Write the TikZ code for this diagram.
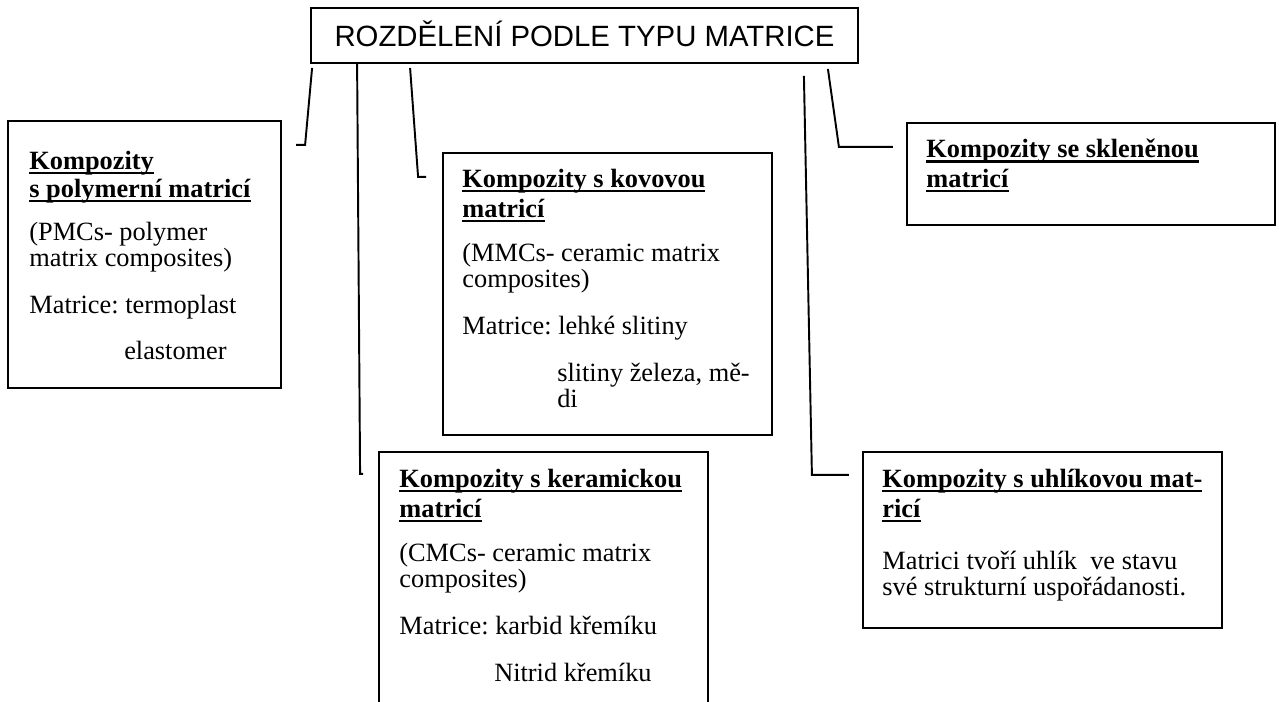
\documentclass[tikz,border=0pt]{standalone}
\usepackage{fontspec}
\setmainfont{Liberation Serif}
\newfontfamily\titlefont{Liberation Sans}
\usetikzlibrary{calc, fit}
\frenchspacing

% underlined bold heading line
\newcommand{\hdline}[1]{\setbox0\hbox{#1}\rlap{\rule[-2.6pt]{\wd0}{1.2pt}}\box0}
\newcommand{\hd}[1]{\hdline{\textbf{#1}}}

\begin{document}
\begin{tikzpicture}[
  x=0.02cm, y=-0.02cm,
  box/.style={draw, line width=1.1pt, inner sep=0pt},
  titlebox/.style={draw, line width=1.1pt, inner sep=0pt, minimum width=10.94cm, minimum height=1.1cm,
    text height=12pt, text depth=0pt, font=\titlefont\fontsize{16.7}{20}\selectfont},
  txt/.style={anchor=north west, inner sep=0pt, align=left, font=\fontsize{15}{14.8}\selectfont},
  link/.style={line width=1.1pt}
]
  \useasboundingbox (0,0) rectangle (1280,702);
  \clip (0,0) rectangle (1280,702);

  \node[titlebox] (title) at (584.5,35.5) {ROZDĚLENÍ PODLE TYPU MATRICE};

  % Boxy
  \node[box, fit={(8,121) (281,388)}] (pmc) {};
  \node[box, fit={(443,153) (772,435)}] (mmc) {};
  \node[box, fit={(907,123) (1275,225)}] (glass) {};
  \node[box, fit={(379,452) (708,730)}] (cmc) {};
  \node[box, fit={(863,452) (1222,628)}] (carbon) {};

  % Texty
  \node[txt] (pmctext) at ($(pmc.north west)+(22,31)$) {\hd{Kompozity}\\[1pt]
    \hd{s polymerní matricí}\\[9.5pt]
    (PMCs- polymer\\
    matrix composites)\\[11.9pt]
    Matrice: termoplast\\[11.9pt]
    \hspace*{54pt}elastomer};
  \node[txt] (mmctext) at ($(mmc.north west)+(20,17)$) {\hd{Kompozity s kovovou}\\[2.2pt]
    \hd{matricí}\\[10.2pt]
    (MMCs- ceramic matrix\\
    composites)\\[11.9pt]
    Matrice: lehké slitiny\\[11.9pt]
    \hspace*{54pt}slitiny železa, mě-\\
    \hspace*{54pt}di};
  \node[txt] (glasstext) at ($(glass.north west)+(20,17)$) {\hd{Kompozity se skleněnou}\\[2.2pt]
    \hd{matricí}};
  \node[txt] (cmctext) at ($(cmc.north west)+(21,18)$) {\hd{Kompozity s keramickou}\\[2.2pt]
    \hd{matricí}\\[10.2pt]
    (CMCs- ceramic matrix\\
    composites)\\[11.9pt]
    Matrice: karbid křemíku\\[11.9pt]
    \hspace*{54pt}Nitrid křemíku};
  \node[txt] (carbontext) at ($(carbon.north west)+(20,18)$) {\hd{Kompozity s uhlíkovou mat-}\\[2.2pt]
    \hd{ricí}\\[15pt]
    Matrici tvoří uhlík\ \ ve stavu\\
    své strukturní uspořádanosti.};

  % Spojnice
  \draw[link] ($(title.south west)+(2,4)$) -- ++(-7,77) -- ++(-9,0);
  \draw[link] ($(title.south west)+(47,0)$) -- ++(3,410) -- ++(3,0);
  \draw[link] ($(title.south west)+(100,4)$) -- ++(8,109) -- ++(8,0);
  \draw[link] ($(title.south east)+(-55,12)$) -- ++(8,399) -- ++(37,0);
  \draw[link] ($(title.south east)+(-31,5)$) -- ++(11,78) -- ++(54,0);
\end{tikzpicture}
\end{document}
